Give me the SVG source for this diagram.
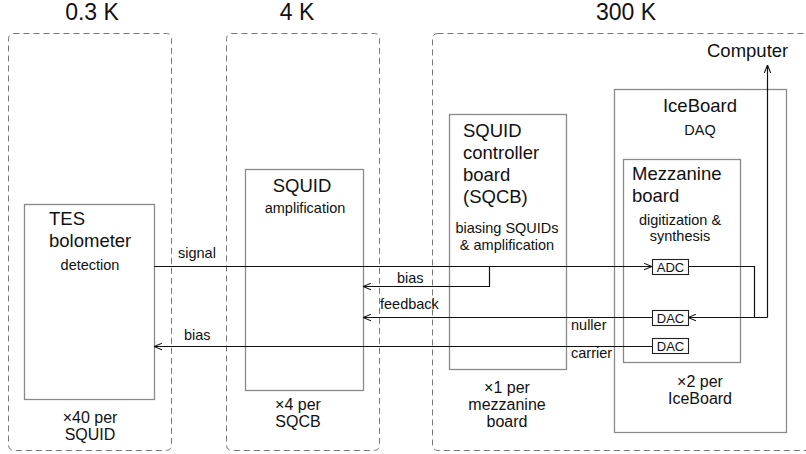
<svg xmlns="http://www.w3.org/2000/svg" width="806" height="454" viewBox="0 0 806 454">
<style>
text{font-family:"Liberation Sans",Arial,Helvetica,sans-serif;fill:#111}
.hdr{font-size:23px;text-anchor:middle}
.big{font-size:18.5px}
.sm{font-size:14.5px}
.ft{font-size:16px;text-anchor:middle}
.box{fill:none;stroke:#8a8a8a;stroke-width:1.3}
.zone{fill:none;stroke:#777;stroke-width:1;stroke-dasharray:6 4}
.cv{fill:#fff;stroke:#222;stroke-width:1.1}
.cvt{font-size:13px;text-anchor:middle}
.ln{fill:none;stroke:#111;stroke-width:1.2}
.mid{text-anchor:middle}
</style>
<defs>
<marker id="ah" viewBox="0 0 10 10" refX="10" refY="5" markerWidth="8" markerHeight="8" markerUnits="userSpaceOnUse" orient="auto">
<path d="M0,1 L10,5 L0,9" fill="none" stroke="#111" stroke-width="1.3"/>
</marker>
</defs>

<g id="zone-03K">
<rect class="zone" x="8.5" y="33.5" width="163" height="417" rx="5"/>
<text class="hdr" x="92" y="20">0.3 K</text>
</g>
<g id="zone-4K">
<rect class="zone" x="226.5" y="33.5" width="153" height="417" rx="5"/>
<text class="hdr" x="297" y="20">4 K</text>
</g>
<g id="zone-300K">
<rect class="zone" x="432.5" y="33.5" width="385" height="417" rx="5"/>
<text class="hdr" x="626" y="20">300 K</text>
</g>

<g id="tes">
<rect class="box" x="24.5" y="204.5" width="130" height="195"/>
<text class="big" x="49" y="225">TES</text>
<text class="big" x="49" y="247">bolometer</text>
<text class="sm mid" x="90" y="270">detection</text>
<text class="ft" x="90" y="423">×40 per</text>
<text class="ft" x="90" y="440">SQUID</text>
</g>

<g id="squid">
<rect class="box" x="245.5" y="169.5" width="118" height="221"/>
<text class="big mid" x="302" y="192">SQUID</text>
<text class="sm mid" x="305" y="213">amplification</text>
<text class="ft" x="298" y="410">×4 per</text>
<text class="ft" x="298" y="427">SQCB</text>
</g>

<g id="sqcb">
<rect class="box" x="449.5" y="114.5" width="117" height="255"/>
<text class="big" x="463" y="137">SQUID</text>
<text class="big" x="463" y="159">controller</text>
<text class="big" x="463" y="181">board</text>
<text class="big" x="463" y="203">(SQCB)</text>
<text class="sm mid" x="507" y="233">biasing SQUIDs</text>
<text class="sm mid" x="507" y="250">&amp; amplification</text>
<text class="ft" x="507" y="393">×1 per</text>
<text class="ft" x="507" y="410">mezzanine</text>
<text class="ft" x="507" y="427">board</text>
</g>

<g id="iceboard">
<rect class="box" x="614.5" y="89.5" width="172" height="343"/>
<text class="big mid" x="700" y="112">IceBoard</text>
<text class="sm mid" x="700" y="135">DAQ</text>
<text class="ft" x="700" y="387">×2 per</text>
<text class="ft" x="700" y="404">IceBoard</text>
</g>

<g id="mezzanine">
<rect class="box" x="623.5" y="159.5" width="117" height="203"/>
<text class="big" x="632" y="180">Mezzanine</text>
<text class="big" x="632" y="202">board</text>
<text class="sm mid" x="680" y="225">digitization &amp;</text>
<text class="sm mid" x="680" y="241">synthesis</text>
</g>

<g id="computer">
<text class="big" x="707" y="57">Computer</text>
</g>

<g id="connectors">
<path class="ln" d="M154,266.5 H652" marker-end="url(#ah)"/>
<path class="ln" d="M489.5,266.5 V286.5 H363" marker-end="url(#ah)"/>
<path class="ln" d="M652,317.5 H363" marker-end="url(#ah)"/>
<path class="ln" d="M652,346.5 H154" marker-end="url(#ah)"/>
<path class="ln" d="M688,266.5 H754.5 V317.5"/>
<path class="ln" d="M767.5,317.5 H688" marker-end="url(#ah)"/>
<path class="ln" d="M767.5,317.5 V65" marker-end="url(#ah)"/>
<text class="sm" x="178" y="258">signal</text>
<text class="sm" x="397" y="283">bias</text>
<text class="sm" x="380" y="309">feedback</text>
<text class="sm" x="184" y="340">bias</text>
<text class="sm" x="571" y="330">nuller</text>
<text class="sm" x="571" y="358">carrier</text>
</g>

<g id="adc">
<rect class="cv" x="652.5" y="259.5" width="36" height="15"/>
<text class="cvt" x="670.5" y="272">ADC</text>
</g>
<g id="dac-nuller">
<rect class="cv" x="652.5" y="310.5" width="36" height="15"/>
<text class="cvt" x="670.5" y="323">DAC</text>
</g>
<g id="dac-carrier">
<rect class="cv" x="652.5" y="338.5" width="36" height="15"/>
<text class="cvt" x="670.5" y="351">DAC</text>
</g>
</svg>
